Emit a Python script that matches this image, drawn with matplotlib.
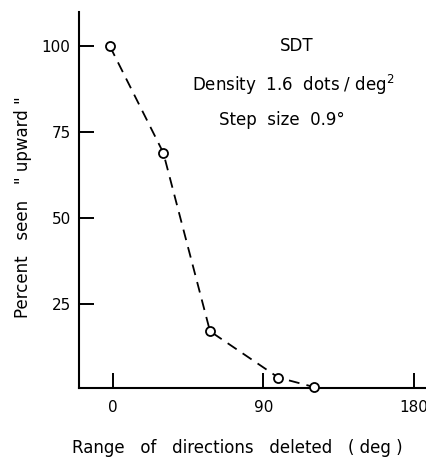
import matplotlib.pyplot as plt

# data
ranges = [-2, 30, 58, 99, 120]
percent_up = [100, 69, 17, 3.5, 0.8]
xticks = [0, 90, 180]
yticks = [100, 75, 50, 25]

fig = plt.figure(figsize=(4.27, 4.58), dpi=100)
ax = fig.add_axes([0.185, 0.153, 0.815, 0.821])

ax.plot(ranges, percent_up, color="black", linestyle=(0, (6, 4)), linewidth=1.3,
        marker="o", markersize=6.5, markerfacecolor="white", markeredgecolor="black",
        markeredgewidth=1.3, clip_on=False, zorder=3)

ax.set_xlim(-20.5, 188)
ax.set_ylim(0.5, 110)
ax.set_xticks(xticks)
ax.set_yticks(yticks)

for s in ["top", "right"]:
    ax.spines[s].set_visible(False)
for s in ["left", "bottom"]:
    ax.spines[s].set_linewidth(1.5)

ax.tick_params(direction="in", length=11, width=1.4, labelsize=11)
ax.tick_params(axis="x", pad=9)
ax.tick_params(axis="y", pad=6)

ax.text(0.626, 0.895, "SDT", transform=ax.transAxes, ha="center", fontsize=12)
ax.text(0.615, 0.79, "Density  1.6  dots / deg$^{2}$", transform=ax.transAxes,
        ha="center", fontsize=12)
ax.text(0.583, 0.70, "Step  size  0.9°", transform=ax.transAxes, ha="center",
        fontsize=12)

fig.text(0.055, 0.548, 'Percent   seen   " upward "', rotation=90, ha="center",
         va="center", fontsize=12)
fig.text(0.555, 0.022, "Range   of   directions   deleted   ( deg )", ha="center",
         va="center", fontsize=12)

fig.savefig("out.png", dpi=100)
